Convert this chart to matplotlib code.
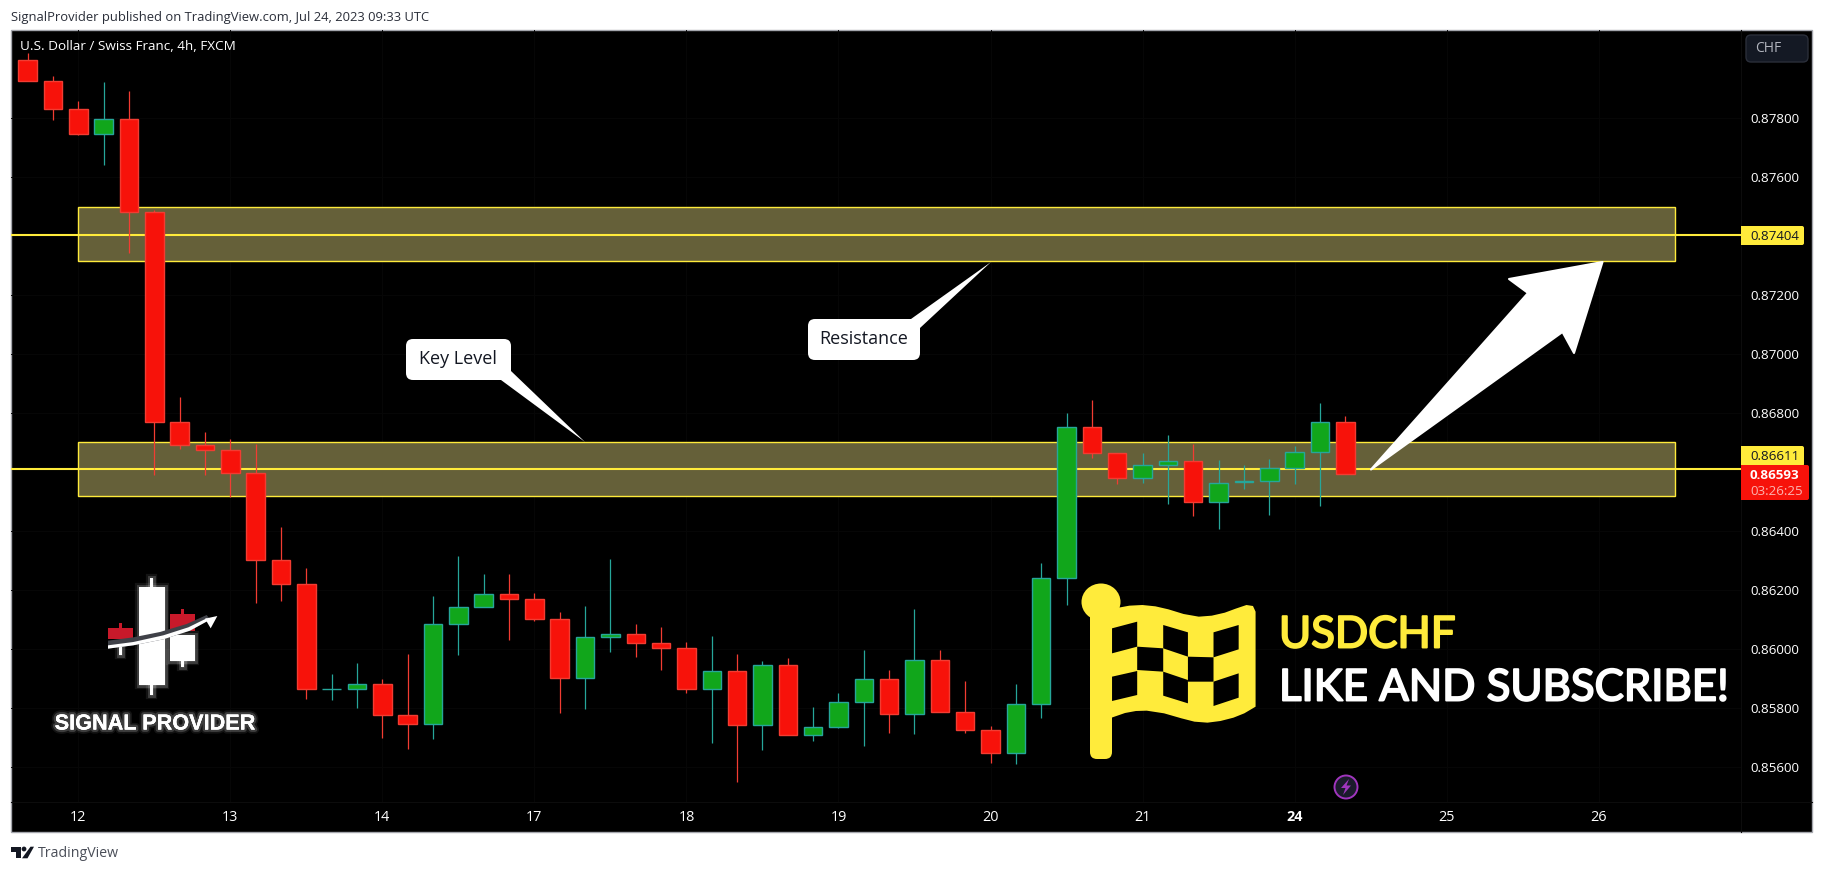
#!/usr/bin/env python
# USDCHF 4h candles with zones and the usual TradingView furniture

import numpy as np
import matplotlib
matplotlib.use("Agg")
import matplotlib.pyplot as plt
import matplotlib.patheffects as pe
from matplotlib.patches import Polygon, Rectangle, FancyBboxPatch, Ellipse, Circle

W, H = 1824, 872

# candle data, one value per 4h bar
opens = [0.87995, 0.87927, 0.87832, 0.87747, 0.87795, 0.87481, 0.86771, 0.86690, 0.86673,
         0.86596, 0.86303, 0.86219, 0.85866, 0.85866, 0.85883, 0.85775, 0.85747, 0.86086,
         0.86141, 0.86188, 0.86171, 0.86103, 0.85903, 0.86042, 0.86052, 0.86019, 0.86005,
         0.85863, 0.85924, 0.85744, 0.85947, 0.85710, 0.85737, 0.85822, 0.85900, 0.85778,
         0.85964, 0.85788, 0.85724, 0.85646, 0.85812, 0.86242, 0.86751, 0.86663, 0.86578,
         0.86625, 0.86636, 0.86497, 0.86566, 0.86568, 0.86612, 0.86669, 0.86771]
highs = [0.88020, 0.87942, 0.87858, 0.87922, 0.87892, 0.87488, 0.86854, 0.86736, 0.86712,
         0.86695, 0.86413, 0.86275, 0.85915, 0.85952, 0.85898, 0.85983, 0.86180, 0.86315,
         0.86254, 0.86254, 0.86190, 0.86125, 0.86146, 0.86305, 0.86085, 0.86075, 0.86024,
         0.86044, 0.85983, 0.85959, 0.85969, 0.85803, 0.85851, 0.85997, 0.85929, 0.86136,
         0.85997, 0.85891, 0.85739, 0.85881, 0.86291, 0.86800, 0.86844, 0.86663, 0.86664,
         0.86725, 0.86695, 0.86641, 0.86624, 0.86644, 0.86688, 0.86834, 0.86790]
lows = [0.87927, 0.87794, 0.87742, 0.87641, 0.87342, 0.86591, 0.86678, 0.86591, 0.86516,
        0.86157, 0.86163, 0.85830, 0.85827, 0.85800, 0.85698, 0.85661, 0.85695, 0.85980,
        0.86141, 0.86030, 0.86095, 0.85783, 0.85797, 0.85990, 0.85973, 0.85929, 0.85851,
        0.85681, 0.85549, 0.85658, 0.85710, 0.85688, 0.85732, 0.85671, 0.85715, 0.85712,
        0.85788, 0.85715, 0.85613, 0.85610, 0.85766, 0.86149, 0.86648, 0.86560, 0.86564,
        0.86491, 0.86451, 0.86408, 0.86543, 0.86455, 0.86560, 0.86486, 0.86593]
closes = [0.87927, 0.87832, 0.87747, 0.87795, 0.87481, 0.86771, 0.86690, 0.86673, 0.86596,
          0.86303, 0.86219, 0.85866, 0.85866, 0.85883, 0.85775, 0.85747, 0.86086, 0.86141,
          0.86188, 0.86171, 0.86103, 0.85903, 0.86042, 0.86052, 0.86019, 0.86005, 0.85863,
          0.85924, 0.85744, 0.85947, 0.85710, 0.85737, 0.85822, 0.85900, 0.85778, 0.85964,
          0.85788, 0.85724, 0.85646, 0.85812, 0.86242, 0.86751, 0.86663, 0.86578, 0.86625,
          0.86636, 0.86497, 0.86564, 0.86570, 0.86612, 0.86669, 0.86771, 0.86593]

day_labels = ["12", "13", "14", "17", "18", "19", "20", "21", "24", "25", "26"]
day_bars = [2, 8, 14, 20, 26, 32, 38, 44, 50, 56, 62]
price_ticks = [0.878, 0.876, 0.872, 0.870, 0.868, 0.864, 0.862, 0.860, 0.858, 0.856]

zones = [(0.87314, 0.87497), (0.86518, 0.86701)]
zone_bars = (2, 65)
levels = [0.87404, 0.86611]

YELLOW = "#ffeb3b"
FONT = ["Open Sans", "DejaVu Sans"]
CARD = ["Lato", "DejaVu Sans"]

fig = plt.figure(figsize=(W / 100, H / 100), dpi=100, facecolor="white")


def box(x0, y0, x1, y1):
    # pixel box, y measured from the top
    return [x0 / W, 1 - y1 / H, (x1 - x0) / W, (y1 - y0) / H]


# pixel-coordinate layers for the frame and the drawn-on stuff
bg = fig.add_axes([0, 0, 1, 1], zorder=0)
over = fig.add_axes([0, 0, 1, 1], zorder=5)
for a in (bg, over):
    a.set_xlim(0, W)
    a.set_ylim(H, 0)
    a.axis("off")
bg.add_patch(Rectangle((11, 30), 1801, 802, fc="black", ec="#a4a6ad", lw=1))
bg.plot([1741, 1741], [30, 832], color="#0c0c0c", lw=0.8)
bg.plot([11, 1812], [802, 802], color="#0c0c0c", lw=0.8)

# price chart
ax = fig.add_axes(box(11, 30, 1741, 802), zorder=2, facecolor="none")
ax.set_xlim((11 - 27.6) / 25.34, (1741 - 27.6) / 25.34)
ax.set_ylim(0.878 - 684 / 59 * 0.002, 0.878 + 88 / 59 * 0.002)
for s in ax.spines.values():
    s.set_visible(False)
ax.yaxis.tick_right()
ax.set_yticks(price_ticks)
ax.set_yticklabels(["%.5f" % p for p in price_ticks], family=FONT, fontsize=9.6, color="white")
ax.set_xticks(day_bars)
ax.set_xticklabels(day_labels, family=FONT, fontsize=10.4, color="white")
ax.get_xticklabels()[8].set_fontweight("bold")
ax.tick_params(axis="y", length=0, pad=7)
ax.tick_params(axis="x", length=0, pad=6)
ax.grid(True, color="#070707", lw=0.7)
ax.set_axisbelow(True)

for lo, hi in zones:
    ax.add_patch(Rectangle((zone_bars[0], lo), zone_bars[1] - zone_bars[0], hi - lo,
                           fc="#656039", ec=YELLOW, lw=1, zorder=2))
for lv in levels:
    ax.axhline(lv, color=YELLOW, lw=1.5, zorder=3)

o = np.array(opens)
c = np.array(closes)
xs = np.arange(len(o))
up = c >= o
ax.vlines(xs[up], np.array(lows)[up], np.array(highs)[up], color="#26a69a", lw=0.9, zorder=4)
ax.vlines(xs[~up], np.array(lows)[~up], np.array(highs)[~up], color="#f23c32", lw=0.9, zorder=4)
ax.bar(xs[up], (c - o)[up], bottom=o[up], width=0.73, color="#11a61b", edgecolor="#26a69a", lw=1, zorder=5)
ax.bar(xs[~up], (c - o)[~up], bottom=o[~up], width=0.73, color="#f7120a", edgecolor="#f23c32", lw=1, zorder=5)

# header and footer
over.text(11, 17, "SignalProvider published on TradingView.com, Jul 24, 2023 09:33 UTC",
          family=FONT, fontsize=9.4, color="#2a2e39", va="center")
over.text(20, 47, "U.S. Dollar / Swiss Franc, 4h, FXCM", family=FONT, fontsize=9.7, color="white", va="center")
over.add_patch(Polygon([(11, 846.7), (21, 846.7), (21, 858.3), (16, 858.3), (16, 851.7), (11, 851.7)], fc="#131722"))
over.add_patch(Circle((24, 849), 2.4, fc="#131722"))
over.add_patch(Polygon([(30.5, 846.7), (34, 846.7), (27.5, 858.3), (22, 858.3)], fc="#131722"))
over.text(38, 853, "TradingView", family=FONT, fontsize=10.2, color="#4a4e58", va="center")

# price scale tags
over.add_patch(FancyBboxPatch((1746, 35), 62, 27, boxstyle="round,pad=0,rounding_size=5", fc="#141924", ec="#2a2e39", lw=1))
over.text(1755, 48, "CHF", family=FONT, fontsize=10, color="#b2b5be", va="center")


def tag(y0, y1, x1, col):
    over.add_patch(FancyBboxPatch((1741, y0), x1 - 1741, y1 - y0, boxstyle="round,pad=0,rounding_size=2", fc=col, ec="none"))
    over.add_patch(Rectangle((1741, y0), 5, y1 - y0, fc=col, ec="none"))


tag(226, 245, 1804, YELLOW)
over.text(1750, 236, "0.87404", family=FONT, fontsize=9.6, color="#131722", va="center")
tag(446, 466, 1804, YELLOW)
over.text(1750, 456, "0.86611", family=FONT, fontsize=9.6, color="#131722", va="center")
tag(465, 500, 1809, "#f7120a")
over.text(1750, 475, "0.86593", family=FONT, fontsize=9.6, fontweight="bold", color="white", va="center")
over.text(1750, 491, "03:26:25", family=FONT, fontsize=9.6, color="#fbb4b0", va="center")


# callouts
def callout(x0, y0, x1, y1, tail, text, cx, cy):
    over.add_patch(Polygon(tail, fc="white", ec="none"))
    over.add_patch(FancyBboxPatch((x0, y0), x1 - x0, y1 - y0, boxstyle="round,pad=0,rounding_size=7", fc="white", ec="none"))
    over.text(cx, cy, text, family=FONT, fontsize=13, color="#131722", ha="center", va="center")


callout(406, 339, 511, 380, [(511, 371), (501, 380), (585, 442)], "Key Level", 458, 359)
callout(808, 319, 920, 360, [(911, 319), (920, 328), (991, 262)], "Resistance", 864, 339)

# big arrow
over.add_patch(Polygon([(1371, 469.5), (1528, 293), (1509, 279), (1602.5, 262), (1574, 353), (1562.5, 332)],
                       fc="white", ec="white", lw=1.5, joinstyle="round"))


# checkered flag
def fz(x, y):
    return (1060 + x / 2.306, 570 + y / 3)


over.add_patch(Ellipse((1101, 602), 39, 37, fc=YELLOW))
over.add_patch(FancyBboxPatch((1090, 610), 22, 149, boxstyle="round,pad=0,rounding_size=7", fc=YELLOW, ec="none"))
flag_outline = [(110, 120), (135, 113), (160, 107), (190, 105), (220, 109), (250, 118), (285, 132), (320, 140),
                (350, 137), (380, 128), (405, 116), (430, 105), (445, 108), (451, 125),
                (451, 410), (425, 430), (400, 443), (370, 453), (340, 458), (310, 455), (280, 445),
                (240, 430), (200, 422), (175, 423), (150, 429), (110, 447)]
over.add_patch(Polygon([fz(*p) for p in flag_outline], fc=YELLOW, ec="none"))
flag_holes = [[(120, 175), (178, 155), (178, 230), (120, 250)],
              [(238, 165), (295, 187), (295, 260), (238, 235)],
              [(354, 187), (412, 165), (412, 238), (354, 262)],
              [(178, 230), (238, 235), (238, 305), (178, 300)],
              [(295, 260), (354, 262), (354, 335), (295, 335)],
              [(120, 320), (178, 303), (178, 375), (120, 393)],
              [(238, 305), (295, 330), (295, 400), (238, 377)],
              [(354, 335), (412, 310), (412, 383), (354, 408)]]
for hole in flag_holes:
    over.add_patch(Polygon([fz(*p) for p in hole], fc="black", ec="none"))

# regular weight with a thin stroke keeps the narrow width of the original lettering
t = over.text(1279, 635, "USDCHF", family=CARD, fontsize=31.5, color=YELLOW, va="center")
t.set_path_effects([pe.withStroke(linewidth=1.4, foreground=YELLOW)])
t = over.text(1279, 688, "LIKE AND SUBSCRIBE!", family=CARD, fontsize=31.5, color="white", va="center")
t.set_path_effects([pe.withStroke(linewidth=1.4, foreground="white")])

# lightning badge
over.add_patch(Ellipse((1346, 787), 23, 23, fc="#1b1b2b", ec="#a035bd", lw=1.4))
over.add_patch(Polygon([(1349, 779), (1341, 788), (1345.5, 788), (1343, 795), (1351, 785.5), (1346.5, 785.5)], fc="#a035bd"))

# signal provider logo
glow = [pe.withStroke(linewidth=6, foreground="white", alpha=0.08),
        pe.withStroke(linewidth=3.5, foreground="white", alpha=0.18), pe.Normal()]


def lz(x, y):
    return (60 + x / 3, 560 + y / 3)


def logo_rect(x0, y0, x1, y1, col, effects=glow):
    (a, b), (c_, d) = lz(x0, y0), lz(x1, y1)
    over.add_patch(Rectangle((a, b), c_ - a, d - b, fc=col, ec="none", path_effects=effects))


logo_rect(271, 55, 279, 405, "white")
logo_rect(237, 82, 314, 375, "white")
logo_rect(177, 258, 185, 285, "white")
logo_rect(144, 204, 220, 238, "#c8192a", None)
logo_rect(177, 188, 185, 204, "#c8192a", None)
logo_rect(363, 285, 371, 322, "white")
logo_rect(329, 225, 406, 302, "white")
logo_rect(329, 163, 406, 212, "#c8192a", None)
logo_rect(363, 148, 371, 163, "#c8192a", None)
band = [(144, 242), (220, 232), (300, 216), (380, 192), (440, 165), (450, 178), (390, 212), (310, 238), (220, 256), (144, 266)]
over.add_patch(Polygon([lz(*p) for p in band], fc="#3f4148", ec="none"))
swoosh = [(144, 256), (220, 246), (310, 226), (385, 202), (440, 175), (445, 182), (390, 212), (310, 238), (220, 256), (144, 266)]
over.add_patch(Polygon([lz(*p) for p in swoosh], fc="white", ec="none"))
over.add_patch(Polygon([lz(*p) for p in [(435, 176), (472, 168), (452, 205)]], fc="white", ec="none"))
over.text(155, 724, "SIGNAL PROVIDER", family=["Liberation Sans", "DejaVu Sans"], fontsize=15.6, fontweight="bold",
          color="white", ha="center", va="center", path_effects=glow)

fig.savefig("out.png", dpi=100, facecolor="white")
plt.close(fig)
